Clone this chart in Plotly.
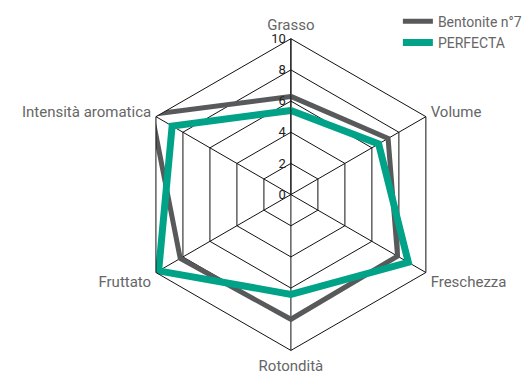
import plotly.graph_objects as go

categories = ["Grasso", "Volume", "Freschezza", "Rotondità", "Fruttato", "Intensità aromatica"]
bentonite = [6.3, 7.2, 7.9, 8.0, 8.2, 10.3]
perfecta = [5.4, 6.5, 8.7, 6.4, 9.8, 8.8]
series_names = ["Bentonite n°7", "PERFECTA"]
radial_ticks = [0, 2, 4, 6, 8, 10]

FONT = "Roboto, sans-serif"

fig = go.Figure()
for name, vals, color, width in [
    (series_names[0], bentonite, "#58595b", 5),
    (series_names[1], perfecta, "#00a388", 7),
]:
    fig.add_trace(go.Scatterpolar(
        r=vals + vals[:1],
        theta=categories + categories[:1],
        mode="lines",
        name=name,
        line=dict(color=color, width=width),
        cliponaxis=False,
    ))

fig.update_layout(
    width=527, height=376,
    margin=dict(l=0, r=0, t=0, b=0),
    paper_bgcolor="white",
    plot_bgcolor="white",
    font=dict(family=FONT, size=15, color="#666666"),
    polar=dict(
        domain=dict(x=[0.254, 0.850], y=[0.068, 0.897]),
        bgcolor="white",
        gridshape="linear",
        angularaxis=dict(
            rotation=90, direction="clockwise",
            gridcolor="#111111", gridwidth=1,
            linecolor="#111111", linewidth=1, showline=True,
            ticks="outside", ticklen=2, tickcolor="rgba(0,0,0,0)",
            tickfont=dict(size=15, color="#666666"),
        ),
        radialaxis=dict(
            range=[0, 10], angle=90, tickangle=90,
            tickvals=radial_ticks, ticktext=[str(t) for t in radial_ticks],
            side="counterclockwise",
            gridcolor="#111111", gridwidth=1,
            showline=True, linecolor="#111111", linewidth=1,
            ticks="", tickfont=dict(size=13, color="#222222"),
        ),
    ),
    legend=dict(
        x=0.755, y=0.985, xanchor="left", yanchor="top",
        font=dict(size=14, color="#666666"),
        bgcolor="rgba(0,0,0,0)",
        tracegroupgap=2,
    ),
)

fig.write_html("out.html")
